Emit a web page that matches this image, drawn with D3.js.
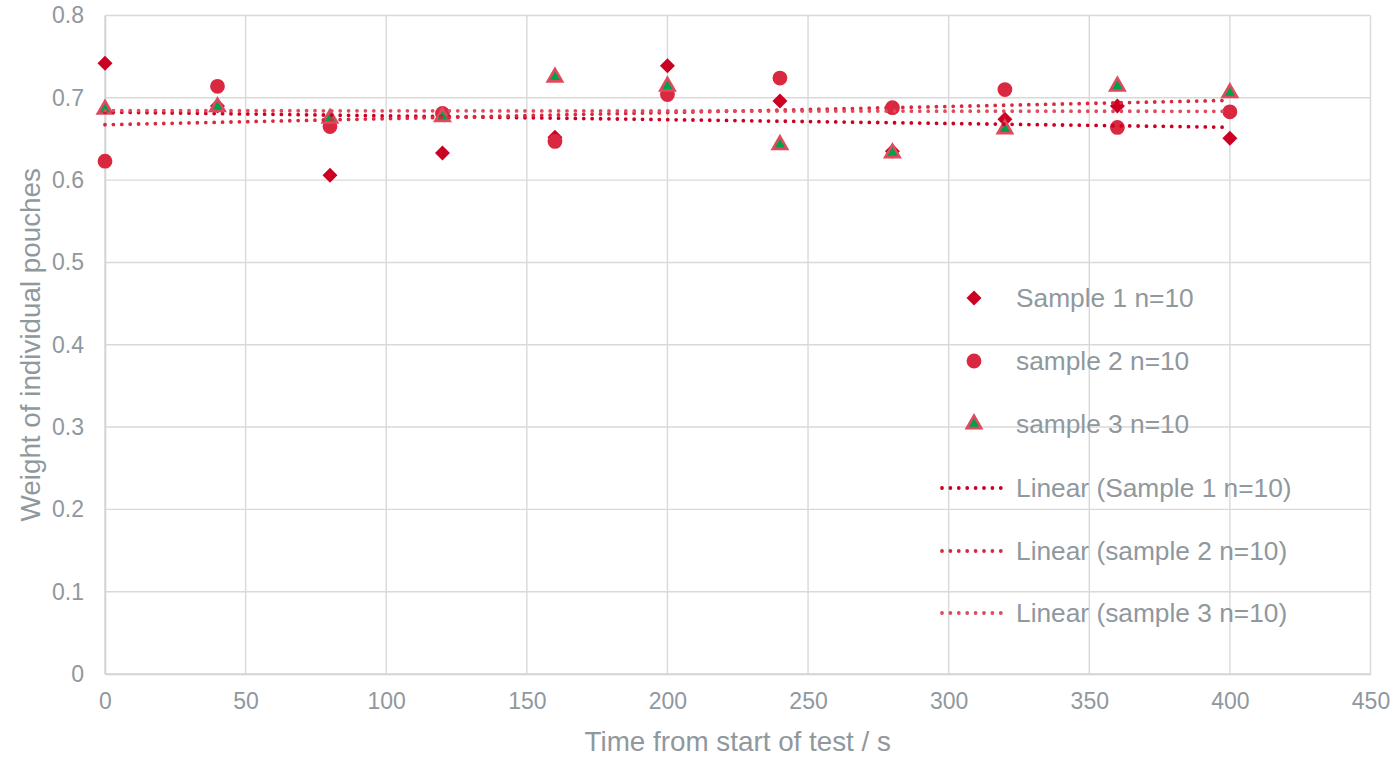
<!DOCTYPE html>
<html>
<head>
<meta charset="utf-8">
<script src="https://cdn.jsdelivr.net/npm/d3@7"></script>
<style>
  html, body { margin: 0; padding: 0; background: #fff; }
  svg { display: block; font-family: "Liberation Sans", Arial, sans-serif; }
</style>
</head>
<body>
<svg id="chart" width="1395" height="757"></svg>
<script>
// ---- data ----
const times = [0, 40, 80, 120, 160, 200, 240, 280, 320, 360, 400];
const sample1 = [0.742, 0.690, 0.606, 0.633, 0.652, 0.739, 0.696, 0.635, 0.674, 0.690, 0.651];
const sample2 = [0.623, 0.714, 0.665, 0.681, 0.647, 0.704, 0.724, 0.688, 0.710, 0.664, 0.683];
const sample3 = [0.686, 0.689, 0.675, 0.677, 0.725, 0.714, 0.643, 0.633, 0.662, 0.714, 0.706];
const seriesNames = ["Sample 1 n=10", "sample 2 n=10", "sample 3 n=10"];
const xTicks = [0, 50, 100, 150, 200, 250, 300, 350, 400, 450];
const yTicks = [0, 0.1, 0.2, 0.3, 0.4, 0.5, 0.6, 0.7, 0.8];
const xTitle = "Time from start of test / s";
const yTitle = "Weight of individual pouches";

// ---- layout ----
const svg = d3.select("#chart");
const pLeft = 105, pRight = 1370.5, pTop = 15.5, pBottom = 674;
const x = d3.scaleLinear().domain([0, 450]).range([pLeft, pRight]);
const y = d3.scaleLinear().domain([0, 0.8]).range([pBottom, pTop]);

const gridColor = "#D9D9D9";
const textColor = "#8F989D";
const colors = {
  s1: "#CC0022",
  s2: "#D92840",
  s3stroke: "#E04A5E",
  s3fill: "#00A14B",
  t1: "#CC0022",
  t2: "#D92840",
  t3: "#E04A5E"
};

// gridlines
svg.append("g").selectAll("line").data(yTicks).join("line")
  .attr("x1", pLeft).attr("x2", pRight)
  .attr("y1", d => y(d)).attr("y2", d => y(d))
  .attr("stroke", gridColor).attr("stroke-width", 1.4);
svg.append("g").selectAll("line").data(xTicks).join("line")
  .attr("x1", d => x(d)).attr("x2", d => x(d))
  .attr("y1", pTop).attr("y2", pBottom)
  .attr("stroke", gridColor).attr("stroke-width", 1.4);

// axes
const xAxis = svg.append("g").attr("transform", `translate(0,${pBottom})`)
  .call(d3.axisBottom(x).tickValues(xTicks).tickSize(0).tickPadding(19).tickFormat(d3.format("d")));
xAxis.select(".domain").attr("stroke", "#D0D4D6").attr("stroke-width", 1.6);
xAxis.selectAll("text").attr("fill", textColor).attr("font-size", 23)
  .attr("font-family", "Liberation Sans, Arial, sans-serif");

const yAxis = svg.append("g").attr("transform", `translate(${pLeft},0)`)
  .call(d3.axisLeft(y).tickValues(yTicks).tickSize(0).tickPadding(21)
    .tickFormat(d => d === 0 ? "0" : d3.format(".1f")(d)));
yAxis.select(".domain").attr("stroke", "#D0D4D6").attr("stroke-width", 1.6);
yAxis.selectAll("text").attr("fill", textColor).attr("font-size", 23)
  .attr("font-family", "Liberation Sans, Arial, sans-serif");

// axis titles
svg.append("text").attr("x", (pLeft + pRight) / 2).attr("y", 751)
  .attr("text-anchor", "middle").attr("fill", textColor).attr("font-size", 27.8)
  .text(xTitle);
svg.append("text").attr("transform", `translate(40,${(pTop + pBottom) / 2}) rotate(-90)`)
  .attr("text-anchor", "middle").attr("fill", textColor).attr("font-size", 27.8)
  .text(yTitle);

// markers
const diamond = d3.symbol().type(d3.symbolSquare).size(112);
const circle = d3.symbol().type(d3.symbolCircle).size(Math.PI * 7.4 * 7.4);
const tri = d3.symbol().type(d3.symbolTriangle).size(90);

const pts = (arr) => times.map((t, i) => ({ t, v: arr[i] }));

svg.append("g").selectAll("path").data(pts(sample1)).join("path")
  .attr("d", diamond)
  .attr("transform", d => `translate(${x(d.t)},${y(d.v)}) rotate(45)`)
  .attr("fill", colors.s1);
svg.append("g").selectAll("path").data(pts(sample2)).join("path")
  .attr("d", circle)
  .attr("transform", d => `translate(${x(d.t)},${y(d.v)})`)
  .attr("fill", colors.s2);
svg.append("g").selectAll("path").data(pts(sample3)).join("path")
  .attr("d", tri)
  .attr("transform", d => `translate(${x(d.t)},${y(d.v)})`)
  .attr("fill", colors.s3fill).attr("stroke", colors.s3stroke).attr("stroke-width", 2.6)
  .attr("stroke-linejoin", "miter");

// linear trendlines (least squares)
function fit(xs, ys) {
  const n = xs.length;
  const mx = d3.mean(xs), my = d3.mean(ys);
  let sxy = 0, sxx = 0;
  for (let i = 0; i < n; i++) { sxy += (xs[i] - mx) * (ys[i] - my); sxx += (xs[i] - mx) ** 2; }
  const b = sxy / sxx, a = my - b * mx;
  return t => a + b * t;
}
const trends = [
  { f: fit(times, sample1), c: colors.t1 },
  { f: fit(times, sample2), c: colors.t2 },
  { f: fit(times, sample3), c: colors.t3 }
];
const line = d3.line().x(d => x(d[0])).y(d => y(d[1]));
const tx0 = d3.min(times), tx1 = d3.max(times);
trends.forEach(tr => {
  svg.append("path")
    .attr("d", line([[tx0, tr.f(tx0)], [tx1, tr.f(tx1)]]))
    .attr("fill", "none").attr("stroke", tr.c).attr("stroke-width", 3.8)
    .attr("stroke-linecap", "round").attr("stroke-dasharray", "0 8.4");
});

// legend
const legRows = [298, 361, 424, 488, 551, 613];
const legX = 974, legTextX = 1016;
const lg = svg.append("g");
lg.append("path").attr("d", diamond).attr("transform", `translate(${legX},${legRows[0]}) rotate(45)`).attr("fill", colors.s1);
lg.append("path").attr("d", circle).attr("transform", `translate(${legX},${legRows[1]})`).attr("fill", colors.s2);
lg.append("path").attr("d", tri).attr("transform", `translate(${legX},${legRows[2]})`)
  .attr("fill", colors.s3fill).attr("stroke", colors.s3stroke).attr("stroke-width", 2.6);
[colors.t1, colors.t2, colors.t3].forEach((c, i) => {
  lg.append("line").attr("x1", 942).attr("x2", 1008)
    .attr("y1", legRows[3 + i]).attr("y2", legRows[3 + i])
    .attr("stroke", c).attr("stroke-width", 3.8)
    .attr("stroke-linecap", "round").attr("stroke-dasharray", "0 8.4");
});
const legLabels = seriesNames.concat(seriesNames.map(s => `Linear (${s})`));
lg.selectAll("text").data(legLabels).join("text")
  .attr("x", legTextX).attr("y", (d, i) => legRows[i])
  .attr("dy", "0.35em").attr("fill", textColor).attr("font-size", 26.3)
  .text(d => d);
</script>
</body>
</html>
